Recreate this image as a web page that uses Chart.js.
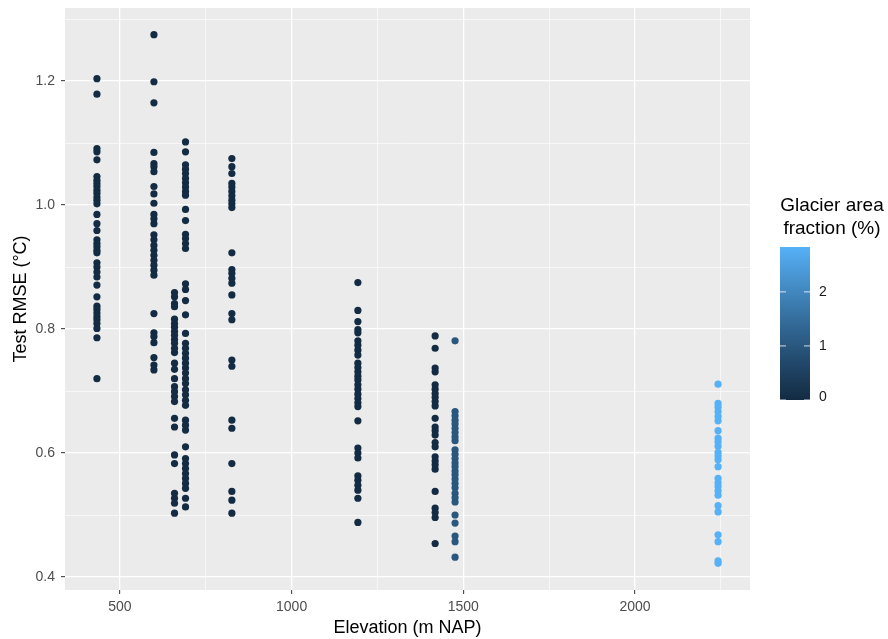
<!DOCTYPE html>
<html>
<head>
<meta charset="utf-8">
<script src="https://cdn.jsdelivr.net/npm/chart.js@4.4.1/dist/chart.umd.min.js"></script>
<style>
  html, body { margin: 0; padding: 0; background: #fff; }
  #wrap { width: 888px; height: 639px; position: relative; }
</style>
</head>
<body>
<div id="wrap"><canvas id="rmseChart"></canvas></div>
<script>
// station elevations (m NAP) and glacier area fraction (%)
const elevation = [433, 599, 659, 691, 826, 1193, 1418, 1476, 2242];
const glacierFraction = [0, 0, 0, 0, 0, 0, 0, 1.0, 2.83];

// test RMSE per station (degC)
const rmse433 = [1.204, 1.179, 1.091, 1.086, 1.073, 1.046, 1.040, 1.035, 1.030, 1.024, 1.019, 1.013, 1.008, 1.002,
  0.985, 0.970, 0.959, 0.944, 0.938, 0.933, 0.927, 0.923, 0.907, 0.900, 0.892, 0.884, 0.871, 0.852, 0.837,
  0.832, 0.826, 0.820, 0.815, 0.809, 0.801, 0.786, 0.720];
const rmse599 = [1.275, 1.199, 1.165, 1.085, 1.067, 1.062, 1.054, 1.030, 1.018, 1.003, 0.985, 0.978, 0.970, 0.952,
  0.944, 0.935, 0.927, 0.919, 0.911, 0.903, 0.895, 0.887, 0.825, 0.794, 0.788, 0.778, 0.754, 0.742, 0.734];
const rmse659 = [0.859, 0.852, 0.841, 0.836, 0.816, 0.809, 0.803, 0.796, 0.790, 0.783, 0.777, 0.769, 0.762, 0.745,
  0.735, 0.720, 0.707, 0.699, 0.691, 0.683, 0.656, 0.642, 0.597, 0.583, 0.535, 0.527, 0.519, 0.503];
const rmse691 = [1.102, 1.086, 1.065, 1.058, 1.051, 1.043, 1.036, 1.029, 1.022, 1.016, 0.993, 0.975, 0.953, 0.946,
  0.938, 0.930, 0.873, 0.864, 0.846, 0.823, 0.793, 0.777, 0.769, 0.761, 0.753, 0.745, 0.737, 0.729, 0.720,
  0.712, 0.702, 0.694, 0.685, 0.677, 0.653, 0.645, 0.637, 0.610, 0.591, 0.583, 0.575, 0.567, 0.559, 0.551,
  0.543, 0.527, 0.513];
const rmse826 = [1.075, 1.062, 1.051, 1.035, 1.029, 1.022, 1.015, 1.008, 1.002, 0.996, 0.923, 0.896, 0.890, 0.882,
  0.874, 0.855, 0.825, 0.815, 0.750, 0.740, 0.653, 0.640, 0.583, 0.538, 0.524, 0.503];
const rmse1193 = [0.875, 0.830, 0.812, 0.799, 0.794, 0.781, 0.774, 0.766, 0.758, 0.745, 0.738, 0.731, 0.724, 0.718,
  0.710, 0.703, 0.695, 0.688, 0.681, 0.675, 0.652, 0.608, 0.600, 0.592, 0.563, 0.556, 0.548, 0.540, 0.527, 0.488];
const rmse1418 = [0.789, 0.769, 0.737, 0.731, 0.710, 0.703, 0.696, 0.690, 0.683, 0.676, 0.656, 0.642, 0.636, 0.629,
  0.617, 0.610, 0.594, 0.587, 0.581, 0.574, 0.538, 0.511, 0.504, 0.496, 0.454];
const rmse1476 = [0.781, 0.667, 0.660, 0.653, 0.647, 0.640, 0.633, 0.626, 0.620, 0.605, 0.598, 0.591, 0.584, 0.578,
  0.571, 0.565, 0.558, 0.551, 0.544, 0.535, 0.528, 0.521, 0.500, 0.487, 0.466, 0.457, 0.432];
const rmse2242 = [0.711, 0.680, 0.674, 0.667, 0.659, 0.652, 0.636, 0.624, 0.618, 0.611, 0.601, 0.595, 0.589, 0.578,
  0.559, 0.552, 0.546, 0.539, 0.532, 0.515, 0.505, 0.468, 0.457, 0.426, 0.422];
const rmseByStation = [rmse433, rmse599, rmse659, rmse691, rmse826, rmse1193, rmse1418, rmse1476, rmse2242];

const xMajor = [500, 1000, 1500, 2000];
const xMinor = [750, 1250, 1750, 2250];
const yMajor = [0.4, 0.6, 0.8, 1.0, 1.2];
const yMinor = [0.5, 0.7, 0.9, 1.1, 1.3];
const legendTicks = [0, 1, 2];
const fracMax = 2.83;

const FONT = '"Liberation Sans", Arial, sans-serif';

// ggplot-like gradient, interpolated in CIELAB
function toLab(hex) {
  let c = [1, 3, 5].map(i => parseInt(hex.substr(i, 2), 16) / 255)
    .map(v => v <= 0.04045 ? v / 12.92 : Math.pow((v + 0.055) / 1.055, 2.4));
  let X = (c[0] * 0.4124 + c[1] * 0.3576 + c[2] * 0.1805) / 0.95047;
  let Y = (c[0] * 0.2126 + c[1] * 0.7152 + c[2] * 0.0722);
  let Z = (c[0] * 0.0193 + c[1] * 0.1192 + c[2] * 0.9505) / 1.08883;
  const f = t => t > 0.008856 ? Math.cbrt(t) : 7.787 * t + 16 / 116;
  return [116 * f(Y) - 16, 500 * (f(X) - f(Y)), 200 * (f(Y) - f(Z))];
}
function fromLab(L, a, b) {
  let fy = (L + 16) / 116, fx = fy + a / 500, fz = fy - b / 200;
  const fi = t => t * t * t > 0.008856 ? t * t * t : (t - 16 / 116) / 7.787;
  let X = fi(fx) * 0.95047, Y = fi(fy), Z = fi(fz) * 1.08883;
  let r = X * 3.2406 + Y * -1.5372 + Z * -0.4986;
  let g = X * -0.9689 + Y * 1.8758 + Z * 0.0415;
  let bl = X * 0.0557 + Y * -0.2040 + Z * 1.0570;
  return 'rgb(' + [r, g, bl].map(v => {
    v = v <= 0.0031308 ? 12.92 * v : 1.055 * Math.pow(v, 1 / 2.4) - 0.055;
    return Math.round(Math.min(1, Math.max(0, v)) * 255);
  }).join(',') + ')';
}
const lowLab = toLab('#132B43'), highLab = toLab('#56B1F7');
function fracColor(v) {
  const t = Math.min(1, Math.max(0, v / fracMax));
  return fromLab(...lowLab.map((l, i) => l + (highLab[i] - l) * t));
}

const datasets = elevation.map((e, i) => ({
  label: e + ' m',
  data: rmseByStation[i].map(v => ({ x: e, y: v })),
  backgroundColor: fracColor(glacierFraction[i]),
  borderWidth: 0,
  pointRadius: 3.6,
  pointHoverRadius: 3.6
}));

const panelBg = {
  id: 'panelBg',
  beforeDraw(chart) {
    const { ctx, chartArea: a } = chart;
    ctx.save();
    ctx.fillStyle = '#EBEBEB';
    ctx.fillRect(a.left, a.top, a.right - a.left, a.bottom - a.top);
    ctx.restore();
  }
};

// colour bar legend on the right
const colorBar = {
  id: 'colorBar',
  afterDraw(chart) {
    const ctx = chart.ctx;
    const x0 = 780, w = 30, top = 247, bottom = 400;
    ctx.save();
    ctx.fillStyle = '#000';
    ctx.font = '19px ' + FONT;
    ctx.textAlign = 'center';
    ctx.textBaseline = 'middle';
    ctx.fillText('Glacier area', 832, 206);
    ctx.fillText('fraction (%)', 832, 229);
    const grad = ctx.createLinearGradient(0, bottom, 0, top);
    for (let k = 0; k <= 20; k++) grad.addColorStop(k / 20, fracColor(fracMax * k / 20));
    ctx.fillStyle = grad;
    ctx.fillRect(x0, top, w, bottom - top);
    ctx.font = '14px ' + FONT;
    ctx.textAlign = 'left';
    legendTicks.forEach(v => {
      const y = bottom - (bottom - top) * v / fracMax;
      ctx.strokeStyle = 'rgba(255,255,255,0.8)';
      ctx.lineWidth = 1;
      ctx.beginPath();
      ctx.moveTo(x0, y); ctx.lineTo(x0 + 6, y);
      ctx.moveTo(x0 + w - 6, y); ctx.lineTo(x0 + w, y);
      ctx.stroke();
      ctx.fillStyle = '#1a1a1a';
      ctx.fillText(String(v), 819, Math.min(y, bottom - 3));
    });
    ctx.restore();
  }
};

const isMajor = (list, v) => list.some(m => Math.abs(m - v) < 1e-9);

new Chart(document.getElementById('rmseChart').getContext('2d'), {
  type: 'scatter',
  data: { datasets },
  options: {
    responsive: true,
    maintainAspectRatio: false,
    animation: false,
    layout: { padding: { top: 8, right: 138, left: 0, bottom: 0 } },
    plugins: { legend: { display: false }, tooltip: { enabled: false } },
    scales: {
      x: {
        type: 'linear',
        min: 340,
        max: 2335,
        afterBuildTicks: s => { s.ticks = xMajor.concat(xMinor).sort((a, b) => a - b).map(v => ({ value: v })); },
        afterFit: s => { s.height = 49; s.paddingLeft = 0; s.paddingRight = 0; },
        border: { display: false },
        grid: {
          color: '#FFFFFF',
          lineWidth: c => isMajor(xMajor, c.tick.value) ? 1.3 : 0.6,
          tickLength: 4,
          tickColor: c => isMajor(xMajor, c.tick.value) ? '#333333' : 'rgba(0,0,0,0)',
          tickWidth: 1
        },
        ticks: {
          autoSkip: false,
          maxRotation: 0,
          padding: 5,
          color: '#4D4D4D',
          font: { family: FONT, size: 14 },
          callback: v => isMajor(xMajor, v) ? String(v) : ''
        },
        title: {
          display: true,
          text: 'Elevation (m NAP)',
          color: '#000',
          padding: { top: 0, bottom: 0 },
          font: { family: FONT, size: 18 }
        }
      },
      y: {
        min: 0.379,
        max: 1.318,
        afterBuildTicks: s => { s.ticks = yMajor.concat(yMinor).sort((a, b) => a - b).map(v => ({ value: v })); },
        afterFit: s => { s.width = 65; s.paddingTop = 0; s.paddingBottom = 0; },
        border: { display: false },
        grid: {
          color: '#FFFFFF',
          lineWidth: c => isMajor(yMajor, c.tick.value) ? 1.3 : 0.6,
          tickLength: 4,
          tickColor: c => isMajor(yMajor, c.tick.value) ? '#333333' : 'rgba(0,0,0,0)',
          tickWidth: 1
        },
        ticks: {
          autoSkip: false,
          padding: 6,
          color: '#4D4D4D',
          font: { family: FONT, size: 14 },
          callback: v => isMajor(yMajor, v) ? v.toFixed(1) : ''
        },
        title: {
          display: true,
          text: 'Test RMSE (°C)',
          color: '#000',
          padding: { top: 10, bottom: 0 },
          font: { family: FONT, size: 18 }
        }
      }
    }
  },
  plugins: [panelBg, colorBar]
});
</script>
</body>
</html>
